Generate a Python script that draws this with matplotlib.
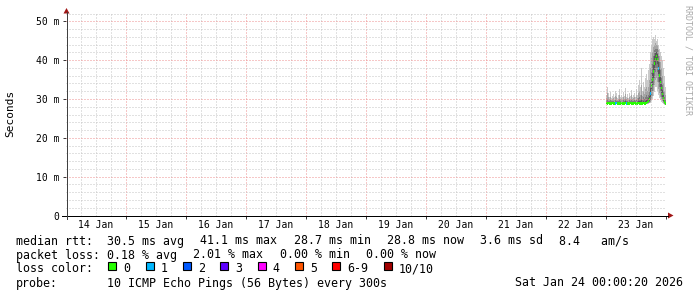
import matplotlib
matplotlib.use("Agg")
import matplotlib.pyplot as plt
import matplotlib.dates as mdates
import numpy as np
import pandas as pd
from matplotlib.patches import Polygon, Rectangle
from matplotlib.lines import Line2D

plt.rcParams['font.family'] = ['DejaVu Sans Mono']

# -----------------------------
# Data (ms), one value per 24 min pixel starting 23 Jan 00:00
# -----------------------------
start = "2026-01-23 00:00"
step_min = 24

median = [29.0, 28.9, 29.0, 28.9, 28.8, 28.9, 29.0, 28.9, 28.8, 28.9,
          29.0, 28.9, 28.8, 28.9, 28.9, 29.0, 28.9, 28.8, 28.9, 29.0,
          28.9, 28.9, 28.8, 28.9, 29.0, 28.9, 28.8, 28.9, 29.0, 28.9,
          28.8, 28.9, 29.0, 28.9, 28.9, 28.8, 28.9, 29.0, 28.9, 28.9,
          29.0, 29.2, 29.5, 30.0, 31.5, 33.5, 35.0, 37.0, 39.2, 40.3,
          41.1, 40.2, 37.9, 36.0, 34.4, 32.8, 31.3, 30.2, 29.3, 28.8]

loss = [0, 0, 0, 0, 0, 0, 0, 0, 0, 1,
        1, 0, 0, 0, 0, 0, 0, 0, 0, 0,
        1, 0, 0, 0, 0, 0, 0, 0, 0, 0,
        0, 0, 0, 0, 0, 0, 0, 0, 0, 0,
        0, 0, 0, 0, 1, 0, 0, 0, 0, 0,
        0, 0, 1, 0, 0, 0, 0, 0, 0, 0]

# sorted pings (smoke), p1 = lowest ... p10 = highest
p10 = [31.0, 33.2, 31.5, 30.5, 31.8, 30.2, 30.8, 31.2, 30.4, 32.0,
       31.5, 30.3, 30.9, 32.5, 30.6, 31.0, 30.4, 31.8, 30.7, 32.8,
       30.5, 31.2, 30.3, 31.5, 30.8, 32.2, 30.5, 31.0, 31.6, 30.4,
       32.5, 31.0, 33.5, 34.9, 33.0, 38.0, 32.0, 34.5, 33.0, 35.5,
       36.5, 35.0, 37.5, 39.0, 42.0, 44.0, 45.5, 46.0, 45.5, 46.5,
       45.0, 45.5, 44.0, 43.0, 42.0, 41.0, 40.0, 38.0, 36.0, 33.0]
p9 = [30.2, 31.5, 30.4, 29.9, 30.6, 29.8, 30.0, 30.3, 29.8, 30.8,
      30.4, 29.8, 30.1, 31.0, 29.9, 30.2, 29.8, 30.6, 30.0, 31.2,
      29.9, 30.3, 29.8, 30.5, 30.1, 30.9, 29.9, 30.2, 30.5, 29.8,
      31.0, 30.2, 31.5, 32.0, 31.0, 33.5, 30.8, 32.0, 31.2, 32.5,
      33.0, 32.0, 33.0, 35.0, 38.0, 40.5, 42.0, 43.5, 44.0, 44.5,
      44.0, 44.0, 42.5, 41.0, 39.5, 38.0, 36.0, 34.0, 32.0, 31.0]
p8 = [29.5, 29.9, 29.6, 29.4, 29.7, 29.4, 29.5, 29.6, 29.3, 29.8,
      29.6, 29.4, 29.5, 29.9, 29.4, 29.6, 29.3, 29.7, 29.5, 30.0,
      29.4, 29.6, 29.3, 29.7, 29.5, 29.8, 29.4, 29.5, 29.7, 29.4,
      29.9, 29.6, 30.2, 30.5, 30.0, 31.0, 29.8, 30.4, 30.0, 30.6,
      31.0, 30.5, 31.0, 32.0, 34.5, 37.0, 39.0, 41.0, 42.5, 43.0,
      43.0, 42.8, 41.0, 39.5, 37.5, 35.5, 33.5, 32.0, 30.5, 29.8]
p7 = [29.2, 29.3, 29.2, 29.1, 29.2, 29.1, 29.2, 29.2, 29.0, 29.3,
      29.2, 29.1, 29.1, 29.3, 29.1, 29.2, 29.0, 29.2, 29.1, 29.4,
      29.1, 29.2, 29.0, 29.2, 29.2, 29.3, 29.1, 29.1, 29.3, 29.1,
      29.3, 29.2, 29.5, 29.6, 29.4, 29.8, 29.3, 29.5, 29.3, 29.6,
      29.7, 29.8, 30.2, 30.8, 32.8, 35.0, 36.8, 38.8, 41.0, 41.8,
      42.2, 41.7, 39.5, 37.8, 36.0, 34.2, 32.3, 31.0, 29.8, 29.2]
p4 = [28.9, 28.8, 28.9, 28.8, 28.7, 28.8, 28.9, 28.8, 28.7, 28.8,
      28.9, 28.8, 28.7, 28.8, 28.8, 28.9, 28.8, 28.7, 28.8, 28.9,
      28.8, 28.8, 28.7, 28.8, 28.9, 28.8, 28.7, 28.8, 28.9, 28.8,
      28.7, 28.8, 28.9, 28.8, 28.8, 28.7, 28.8, 28.9, 28.8, 28.8,
      28.9, 29.0, 29.2, 29.5, 30.5, 32.0, 33.5, 35.5, 37.5, 38.8,
      40.0, 39.0, 36.5, 34.5, 33.0, 31.5, 30.5, 29.6, 29.0, 28.7]
p3 = [28.8, 28.7, 28.8, 28.7, 28.6, 28.7, 28.8, 28.7, 28.6, 28.7,
      28.8, 28.7, 28.6, 28.7, 28.7, 28.8, 28.7, 28.6, 28.7, 28.8,
      28.7, 28.7, 28.6, 28.7, 28.8, 28.7, 28.6, 28.7, 28.8, 28.7,
      28.6, 28.7, 28.8, 28.7, 28.7, 28.6, 28.7, 28.8, 28.7, 28.7,
      28.8, 28.9, 29.0, 29.2, 29.8, 30.8, 32.0, 33.5, 35.5, 37.0,
      38.0, 37.0, 34.5, 33.0, 31.8, 30.6, 29.9, 29.2, 28.8, 28.6]
p2 = [28.7, 28.6, 28.7, 28.6, 28.5, 28.6, 28.7, 28.6, 28.5, 28.6,
      28.7, 28.6, 28.5, 28.6, 28.6, 28.7, 28.6, 28.5, 28.6, 28.7,
      28.6, 28.6, 28.5, 28.6, 28.7, 28.6, 28.5, 28.6, 28.7, 28.6,
      28.5, 28.6, 28.7, 28.6, 28.6, 28.5, 28.6, 28.7, 28.6, 28.6,
      28.7, 28.8, 28.9, 29.0, 29.3, 30.0, 30.8, 32.0, 33.5, 35.0,
      35.5, 34.5, 32.5, 31.5, 30.6, 29.9, 29.4, 28.9, 28.6, 28.5]
p1 = [28.6, 28.5, 28.6, 28.5, 28.4, 28.5, 28.6, 28.5, 28.4, 28.5,
      28.6, 28.5, 28.4, 28.5, 28.5, 28.6, 28.5, 28.4, 28.5, 28.6,
      28.5, 28.5, 28.4, 28.5, 28.6, 28.5, 28.4, 28.5, 28.6, 28.5,
      28.4, 28.5, 28.6, 28.5, 28.5, 28.4, 28.5, 28.6, 28.5, 28.5,
      28.6, 28.7, 28.8, 28.9, 29.0, 29.4, 30.0, 30.8, 31.8, 33.0,
      33.0, 32.0, 31.0, 30.3, 29.8, 29.3, 29.0, 28.7, 28.5, 28.4]

# legend texts
rtt_items = ["median rtt:  30.5 ms avg", "41.1 ms max", "28.7 ms min",
             "28.8 ms now", "3.6 ms sd", "8.4   am/s"]
loss_items = ["packet loss: 0.18 % avg", "2.01 % max", "0.00 % min", "0.00 % now"]
loss_labels = ["0", "1", "2", "3", "4", "5", "6-9", "10/10"]
loss_colors = ["#26ff00", "#00b8ff", "#0059ff", "#5e00ff",
               "#ff00ff", "#ff5500", "#ff0000", "#a10000"]
probe_text = "10 ICMP Echo Pings (56 Bytes) every 300s"
date_text = "Sat Jan 24 00:00:20 2026"

y_ticks = [0, 10, 20, 30, 40, 50]
y_labels = ["0", "10 m", "20 m", "30 m", "40 m", "50 m"]

# -----------------------------
# Figure
# -----------------------------
W, H = 697, 297
fig = plt.figure(figsize=(W / 100, H / 100), dpi=100, facecolor='white')


def fx(x):
    return x / W


def fy(y):
    return 1 - y / H


ax = fig.add_axes([fx(66), fy(215.5), 600 / W, 203 / H])
ax.set_facecolor('white')

t0 = pd.Timestamp("2026-01-14 00:00")
t1 = pd.Timestamp("2026-01-24 00:00")
ax.set_xlim(mdates.date2num(t0), mdates.date2num(t1))
ax.set_ylim(0, 52.27)

times = pd.date_range(start, periods=len(median), freq=f"{step_min}min")
xs = mdates.date2num(times)
step_days = step_min / 1440.0
edges = np.append(xs, xs[-1] + step_days)


def ext(a):
    a = np.asarray(a, dtype=float)
    return np.append(a, a[-1])


# smoke
layers = [(p1, p10, '#cacaca'), (p2, p9, '#a4a4a4'),
          (p3, p8, '#7e7e7e'), (p4, p7, '#585858')]
for lo, hi, c in layers:
    ax.fill_between(edges, ext(lo), ext(hi), step='post', color=c,
                    linewidth=0, zorder=2)

# median band coloured by loss
med = np.asarray(median)
ax.bar(xs, 0.7, bottom=med - 0.35, width=step_days, align='edge',
       color=[loss_colors[l] for l in loss], linewidth=0, zorder=3)

# grid (dotted, 1 px on / 2 px off)
grid_minor = dict(color='#c4c4c4', lw=0.72, ls=(0, (1, 2)), zorder=4)
grid_major = dict(color='#ee9090', lw=0.72, ls=(0, (1, 2)), zorder=4)
for t in pd.date_range(t0 + pd.Timedelta(hours=6), t1, freq="6h"):
    ax.axvline(mdates.date2num(t), **(grid_major if t.hour == 0 else grid_minor))
for v in range(2, 53, 2):
    ax.axhline(v, **(grid_major if v % 10 == 0 else grid_minor))

for s in ax.spines.values():
    s.set_visible(False)

ax.set_yticks(y_ticks, labels=y_labels)
ax.tick_params(axis='y', length=2, width=0.7, color='#333333', pad=3,
               labelsize=7)

midnights = pd.date_range(t0 + pd.Timedelta(days=1), t1, freq="D")
noons = pd.date_range(t0 + pd.Timedelta(hours=12), t1, freq="D")
ax.set_xticks(mdates.date2num(midnights), labels=[''] * len(midnights))
ax.set_xticks(mdates.date2num(noons), labels=[t.strftime('%d %b') for t in noons],
              minor=True)
ax.tick_params(axis='x', which='major', length=2, width=0.7, color='#333333')
ax.tick_params(axis='x', which='minor', length=0, pad=3.5, labelsize=7)

# axis lines and arrows
fig.add_artist(Line2D([fx(62), fx(668)], [fy(215.5), fy(215.5)],
                      color='black', lw=0.72))
fig.add_artist(Line2D([fx(66.5), fx(66.5)], [fy(219), fy(12)],
                      color='#404040', lw=0.72))
arrow_c = '#a01515'
fig.add_artist(Polygon([[fx(63.5), fy(13.5)], [fx(69.5), fy(13.5)], [fx(66.5), fy(8)]],
                       closed=True, color=arrow_c, lw=0))
fig.add_artist(Polygon([[fx(668), fy(212.5)], [fx(668), fy(218.5)], [fx(673.5), fy(215.5)]],
                       closed=True, color=arrow_c, lw=0))

fig.text(fx(10), fy(113), "Seconds", rotation=90, ha='center', va='center',
         fontsize=8)
fig.text(fx(688), fy(5), "RRDTOOL / TOBI OETIKER", rotation=270, ha='center',
         va='top', fontsize=6, color='#a8a8a8')

# -----------------------------
# Legend rows
# -----------------------------
FS = 8.4
CW = 7.02
GAP = 16

x = 16
for item in rtt_items:
    fig.text(fx(x), fy(244.5), item, fontsize=FS, va='baseline')
    x += len(item) * CW + GAP

x = 16
for item in loss_items:
    fig.text(fx(x), fy(258.5), item, fontsize=FS, va='baseline')
    x += len(item) * CW + GAP

fig.text(fx(16), fy(272.5), "loss color:", fontsize=FS, va='baseline')
x = 108.3
for lab, c in zip(loss_labels, loss_colors):
    fig.add_artist(Rectangle((fx(x), fy(269.5)), 8 / W, 8 / H,
                             transform=fig.transFigure, facecolor=c,
                             edgecolor='black', lw=0.8))
    fig.text(fx(x + 15), fy(272.5), lab, fontsize=FS, va='baseline')
    x += 15 + len(lab) * CW + 15.3

fig.text(fx(16), fy(286.5), "probe:", fontsize=FS, va='baseline')
fig.text(fx(107), fy(286.5), probe_text, fontsize=FS, va='baseline')
fig.text(fx(683), fy(286.5), date_text, fontsize=FS, va='baseline', ha='right')

fig.savefig("out.png", dpi=100, facecolor='white')
